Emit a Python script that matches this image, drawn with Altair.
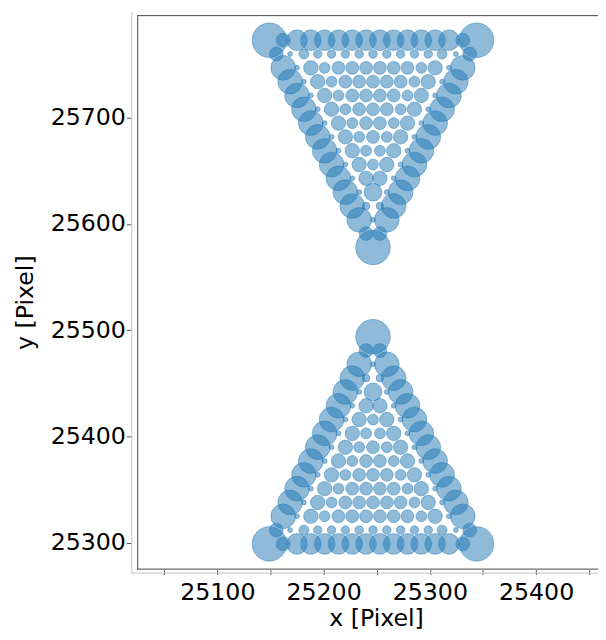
import altair as alt
import pandas as pd

# Lattice columns (half-step x positions) and row heights of the two triangles
x_grid = [25149.0, 25155.5, 25162.0, 25168.5, 25175.0, 25181.5, 25188.0, 25194.5,
          25201.0, 25207.5, 25214.0, 25220.5, 25227.0, 25233.5, 25240.0, 25246.5,
          25253.0, 25259.5, 25266.0, 25272.5, 25279.0, 25285.5, 25292.0, 25298.5,
          25305.0, 25311.5, 25318.0, 25324.5, 25331.0, 25337.5, 25344.0]
y_upper = [25773, 25760, 25747, 25734, 25721, 25708, 25695, 25682,
           25669, 25656, 25643, 25630, 25617, 25604, 25591, 25578]
y_lower = [25299, 25312, 25325, 25338, 25351, 25364, 25377, 25390,
           25403, 25416, 25429, 25442, 25455, 25468, 25481, 25494]

# Marker sizes (squared diameter), row by row from the base of each triangle to its apex
sizes = [
    [1225, 196, 441, 441, 441, 441, 441, 441, 441, 441, 441, 441, 441, 441, 196, 1225],
    [196, 25, 100, 74, 74, 74, 74, 74, 74, 74, 74, 74, 100, 25, 196],
    [625, 25, 213, 121, 169, 169, 169, 169, 169, 169, 121, 213, 25, 625],
    [625, 25, 213, 121, 169, 169, 169, 169, 169, 121, 213, 25, 625],
    [625, 25, 213, 121, 169, 169, 169, 169, 121, 213, 25, 625],
    [625, 25, 213, 121, 169, 169, 169, 121, 213, 25, 625],
    [625, 25, 213, 121, 169, 169, 121, 213, 25, 625],
    [625, 25, 213, 121, 169, 121, 213, 25, 625],
    [625, 25, 213, 121, 121, 213, 25, 625],
    [625, 25, 213, 121, 213, 25, 625],
    [625, 25, 213, 213, 25, 625],
    [625, 25, 324, 25, 625],
    [625, 58, 58, 625],
    [625, 25, 625],
    [196, 196],
    [1225],
]

x_ticks = [25050, 25100, 25150, 25200, 25250, 25300, 25350, 25400, 25450]
y_ticks = [25300, 25400, 25500, 25600, 25700]

records = []
for tri, ys in (("upper", y_upper), ("lower", y_lower)):
    for r, row in enumerate(sizes):
        for j, s in enumerate(row):
            records.append({"x": x_grid[r + 2 * j], "y": ys[r], "s": s, "tri": tri})
df = pd.DataFrame(records)

W, H = 467, 562
FONT = "DejaVu Sans"
BLUE = "#1f77b4"

points = alt.Chart(df).mark_circle(
    fill=BLUE, fillOpacity=0.5, stroke=BLUE, strokeOpacity=0.45, strokeWidth=1
).encode(
    x=alt.X("x:Q",
            scale=alt.Scale(domain=[25024.65, 25458.25], nice=False, zero=False),
            axis=alt.Axis(values=x_ticks, format="d",
                          labelExpr="datum.value % 100 == 0 ? datum.label : ''",
                          domain=False, grid=False, tickSize=5, tickColor="#555555",
                          tickWidth=1, labelFontSize=24, labelFont=FONT,
                          labelColor="black", labelPadding=6, labelFlush=False,
                          labelOverlap=False, title="x [Pixel]", titleFont=FONT,
                          titleFontSize=24, titleFontWeight="normal",
                          titleColor="black", titleX=242, titleY=57,
                          titleAlign="center", titleBaseline="alphabetic")),
    y=alt.Y("y:Q",
            scale=alt.Scale(domain=[25274.8, 25796.6], nice=False, zero=False),
            axis=alt.Axis(values=y_ticks, format="d", offset=6,
                          domain=False, grid=False, tickSize=5, tickColor="#555555",
                          tickWidth=1, labelFontSize=24, labelFont=FONT,
                          labelColor="black", labelPadding=1, labelFlush=False,
                          labelOverlap=False, title="y [Pixel]", titleFont=FONT,
                          titleFontSize=24, titleFontWeight="normal",
                          titleColor="black", titleX=-107, titleY=H / 2 + 10,
                          titleAngle=270, titleAlign="center",
                          titleBaseline="middle")),
    size=alt.Size("s:Q", scale=None, legend=None),
)

dummy = pd.DataFrame({"k": [0]})
FRAME = "#444444"
SPINE = "#c4c4c4"

frame_top = alt.Chart(dummy).mark_rule(color=FRAME, strokeWidth=1).encode(
    x=alt.value(0), x2=alt.value(W), y=alt.value(0.5))
frame_left = alt.Chart(dummy).mark_rule(color=FRAME, strokeWidth=1).encode(
    x=alt.value(0.5), y=alt.value(0), y2=alt.value(H))
frame_bottom = alt.Chart(dummy).mark_rule(color=FRAME, strokeWidth=1).encode(
    x=alt.value(0), x2=alt.value(W), y=alt.value(H - 0.5))
spine_left = alt.Chart(dummy).mark_rule(color=SPINE, strokeWidth=1).encode(
    x=alt.value(-5.5), y=alt.value(-3), y2=alt.value(H + 4))
spine_bottom = alt.Chart(dummy).mark_rule(color=SPINE, strokeWidth=1).encode(
    x=alt.value(-6), x2=alt.value(W), y=alt.value(H + 3.5))

chart = alt.layer(
    points, frame_top, frame_left, frame_bottom, spine_left, spine_bottom
).properties(
    width=W, height=H,
    padding={"left": 131, "top": 3, "right": 0, "bottom": 59},
    autosize=alt.AutoSizeParams(type="none"),
).configure_view(strokeWidth=0)

chart.save("out.html", embed_options={"renderer": "svg", "actions": False})
